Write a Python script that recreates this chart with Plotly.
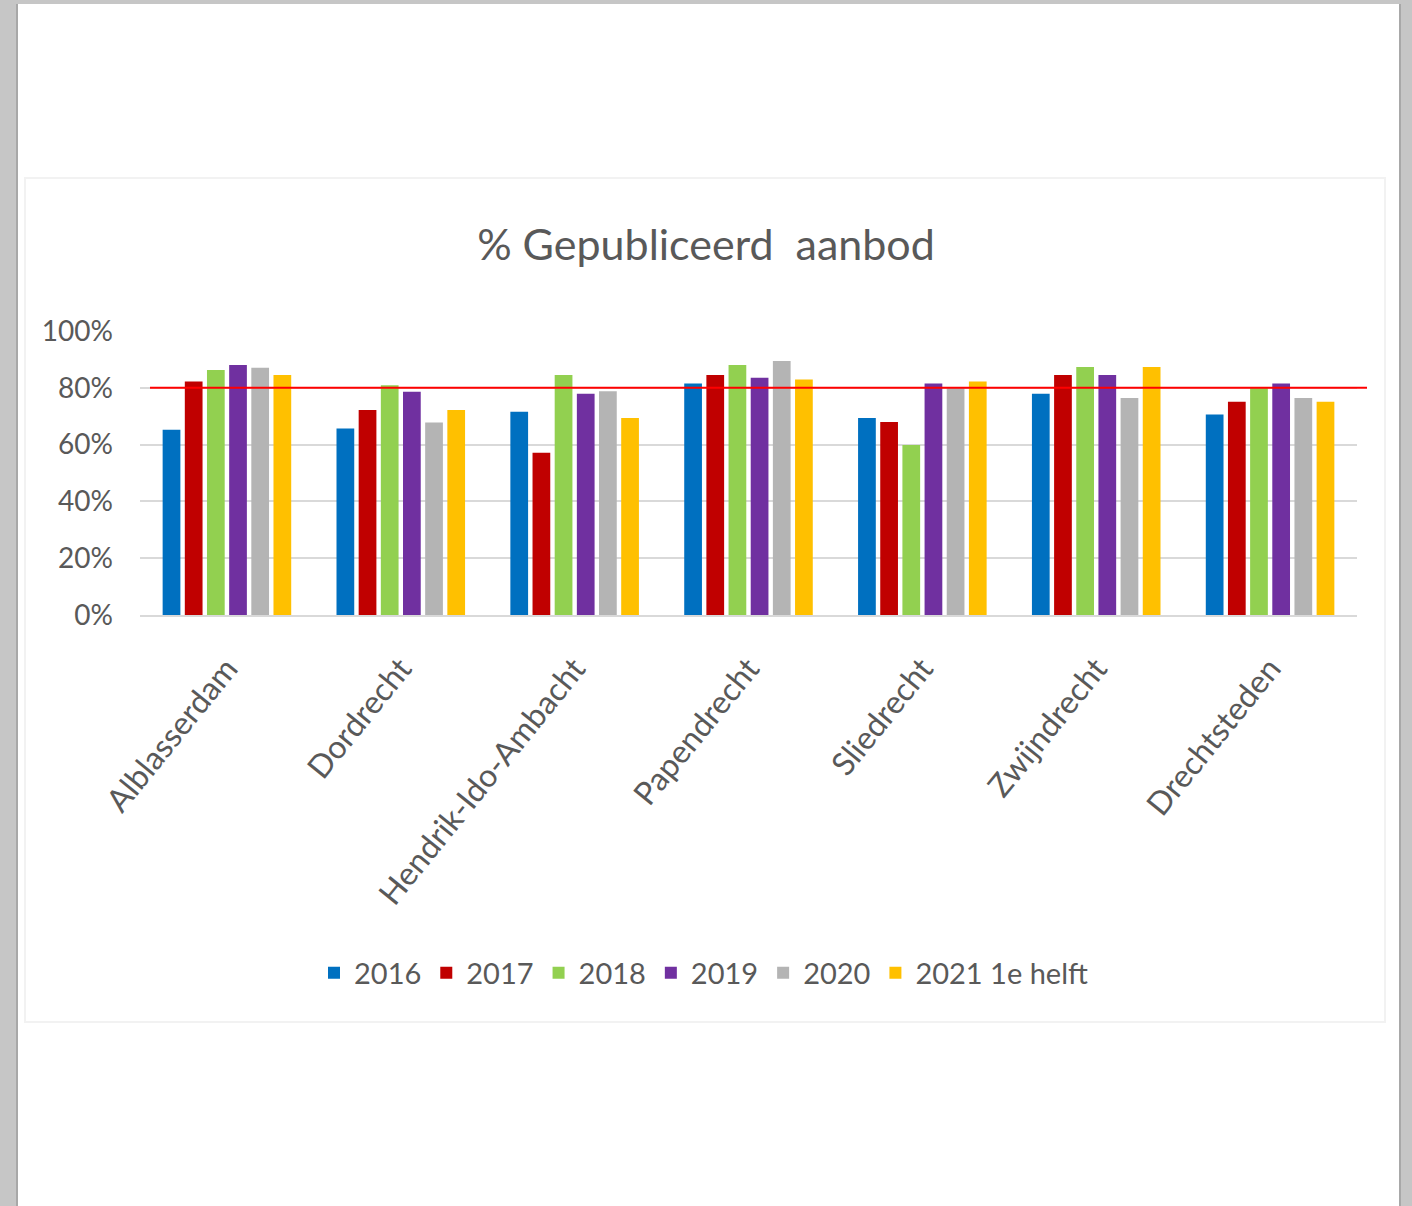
import plotly.graph_objects as go

categories = ["Alblasserdam", "Dordrecht", "Hendrik-Ido-Ambacht", "Papendrecht",
              "Sliedrecht", "Zwijndrecht", "Drechtsteden"]
series_names = ["2016", "2017", "2018", "2019", "2020", "2021 1e helft"]
v2016 = [0.652, 0.657, 0.716, 0.815, 0.694, 0.779, 0.706]
v2017 = [0.822, 0.722, 0.571, 0.845, 0.680, 0.845, 0.751]
v2018 = [0.863, 0.809, 0.845, 0.880, 0.599, 0.873, 0.800]
v2019 = [0.880, 0.786, 0.779, 0.835, 0.815, 0.845, 0.815]
v2020 = [0.871, 0.678, 0.788, 0.894, 0.800, 0.764, 0.764]
v2021 = [0.845, 0.722, 0.694, 0.829, 0.822, 0.873, 0.751]
series_values = [v2016, v2017, v2018, v2019, v2020, v2021]
colors = ["#0070C0", "#C00000", "#92D050", "#7030A0", "#B4B4B4", "#FFC000"]
target = 0.80
y_ticks = [0, 0.2, 0.4, 0.6, 0.8, 1.0]
y_tick_labels = ["0%", "20%", "40%", "60%", "80%", "100%"]

FONT = "Lato, Carlito, 'Open Sans', sans-serif"
TXT = "#595959"

fig = go.Figure()
for name, vals, col in zip(series_names, series_values, colors):
    fig.add_trace(go.Bar(name=name, x=categories, y=vals, marker_color=col,
                         marker_line_width=0))

W, H = 1412, 1206
L, R, T, B = 140, 55, 331, 591
pw = W - L - R
ph = H - T - B

def px2x(p):
    return (p - L) / pw

def px2y(p):
    return 1 - (p - T) / ph

shapes = [
    # white page
    dict(type="rect", xref="paper", yref="paper", x0=px2x(17), x1=px2x(1400),
         y0=px2y(1206), y1=px2y(4), fillcolor="white", line=dict(width=0), layer="below"),
    # page shadow edges
    dict(type="line", xref="paper", yref="paper", x0=px2x(17), x1=px2x(17),
         y0=px2y(1206), y1=px2y(4), line=dict(color="#a8a8a8", width=2), layer="below"),
    dict(type="line", xref="paper", yref="paper", x0=px2x(1400), x1=px2x(1400),
         y0=px2y(1206), y1=px2y(4), line=dict(color="#a8a8a8", width=2), layer="below"),
    # chart area faint border
    dict(type="rect", xref="paper", yref="paper", x0=px2x(25), x1=px2x(1385),
         y0=px2y(1022), y1=px2y(178), fillcolor="rgba(0,0,0,0)",
         line=dict(color="#f2f2f2", width=2), layer="below"),
    # target line
    dict(type="line", xref="paper", yref="y", x0=px2x(150), x1=px2x(1367),
         y0=target, y1=target, line=dict(color="#FF0000", width=2), layer="above"),
]

fig.update_layout(
    width=W, height=H,
    margin=dict(l=L, r=R, t=T, b=B, autoexpand=False),
    paper_bgcolor="#c6c6c6",
    plot_bgcolor="rgba(0,0,0,0)",
    barmode="group",
    bargap=0.235,
    bargroupgap=0.2,
    title=dict(text="% Gepubliceerd  aanbod", x=0.5, xanchor="center",
               y=1 - 245 / H, yanchor="middle", yref="container",
               font=dict(family=FONT, size=43, color=TXT)),
    font=dict(family=FONT, color=TXT),
    shapes=shapes,
    legend=dict(orientation="h", x=px2x(314), xanchor="left", y=px2y(973), yanchor="middle",
                font=dict(family=FONT, size=29, color=TXT), bgcolor="rgba(0,0,0,0)",
                itemwidth=30),
    xaxis=dict(tickangle=-51, tickfont=dict(family=FONT, size=32, color=TXT),
               showgrid=False, showline=True, linecolor="#d9d9d9", linewidth=2,
               ticks="", ticklen=0, ticklabelstandoff=20),
    yaxis=dict(range=[0, 1.0], tickvals=y_ticks, ticktext=y_tick_labels,
               tickfont=dict(family=FONT, size=28, color=TXT),
               showgrid=True, gridcolor="#d9d9d9", gridwidth=2,
               zeroline=False, showline=False, ticks="", ticklabelstandoff=26),
)

fig.write_html("out.html")
